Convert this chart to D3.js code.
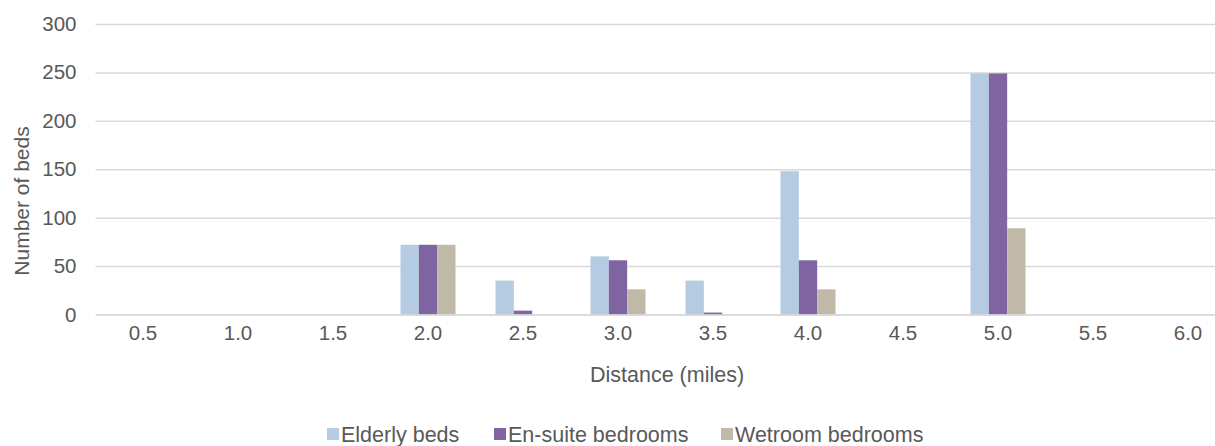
<!DOCTYPE html>
<html><head><meta charset="utf-8">
<script src="https://cdn.jsdelivr.net/npm/d3@7"></script>
<style>html,body{margin:0;padding:0;background:#fff;overflow:hidden}</style>
</head><body>
<svg id="c" width="1215" height="446"></svg>
<script>
const categories = ["0.5","1.0","1.5","2.0","2.5","3.0","3.5","4.0","4.5","5.0","5.5","6.0"];
const seriesNames = ["Elderly beds","En-suite bedrooms","Wetroom bedrooms"];
const elderly = [0,0,0,72,35,60,35,148,0,249,0,0];
const ensuite = [0,0,0,72,4,56,2,56,0,249,0,0];
const wetroom = [0,0,0,72,0,26,0,26,0,89,0,0];
const yTicks = [0,50,100,150,200,250,300];
const colors = ["#B4CBE1","#8064A2","#C0B9A7"];

const values = [elderly, ensuite, wetroom];
const svg = d3.select("#c");
const font = "'Liberation Sans', Arial, sans-serif";
const txt = "#595959";

const x0 = d3.scaleBand().domain(categories).range([95.5, 1235.5]).padding(0);
const groupW = 55;
const x1 = d3.scaleBand().domain(seriesNames).range([0, groupW]).padding(0);
const y = d3.scaleLinear().domain([0,300]).range([314.5, 24]);

// gridlines
const yAxis = d3.axisLeft(y).tickValues(yTicks).tickSize(-(1235.5-95.5)).tickPadding(19).tickFormat(d3.format("d"));
const gy = svg.append("g").attr("transform","translate(95.5,0)").call(yAxis);
gy.select(".domain").remove();
gy.selectAll(".tick line").attr("stroke","#D9D9D9").attr("stroke-width",1.5);
gy.selectAll(".tick text").attr("fill",txt).style("font-family",font).style("font-size","20.5px");

// bars
const data = [];
categories.forEach((c,i)=>seriesNames.forEach((s,j)=>data.push({c,s,v:values[j][i],j})));
svg.append("g").selectAll("rect").data(data).join("rect")
  .attr("x",d=>x0(d.c)+(x0.bandwidth()-groupW)/2+x1(d.s))
  .attr("width",x1.bandwidth())
  .attr("y",d=>y(d.v))
  .attr("height",d=>y(0)-y(d.v))
  .attr("fill",d=>colors[d.j]);

// x axis
const xAxis = d3.axisBottom(x0).tickSize(0).tickPadding(11);
const gx = svg.append("g").attr("transform",`translate(0,${y(0)})`).call(xAxis);
gx.select(".domain").attr("stroke","#D9D9D9").attr("stroke-width",1.5);
gx.selectAll(".tick text").attr("fill",txt).style("font-family",font).style("font-size","20.5px");

// axis titles
svg.append("text").attr("x",667).attr("y",382).attr("text-anchor","middle")
  .attr("fill",txt).style("font-family",font).style("font-size","21.5px").text("Distance (miles)");
svg.append("text").attr("transform","translate(29,201) rotate(-90)").attr("text-anchor","middle")
  .attr("fill",txt).style("font-family",font).style("font-size","21px").text("Number of beds");

// legend
const legendX = [327, 494, 721];
const lg = svg.append("g").selectAll("g").data(seriesNames).join("g")
  .attr("transform",(d,i)=>`translate(${legendX[i]},0)`);
lg.append("rect").attr("x",0).attr("y",428).attr("width",12).attr("height",12).attr("fill",(d,i)=>colors[i]);
lg.append("text").attr("x",14).attr("y",442).attr("fill",txt).style("font-family",font).style("font-size","21.5px").text(d=>d);
</script>
</body></html>
